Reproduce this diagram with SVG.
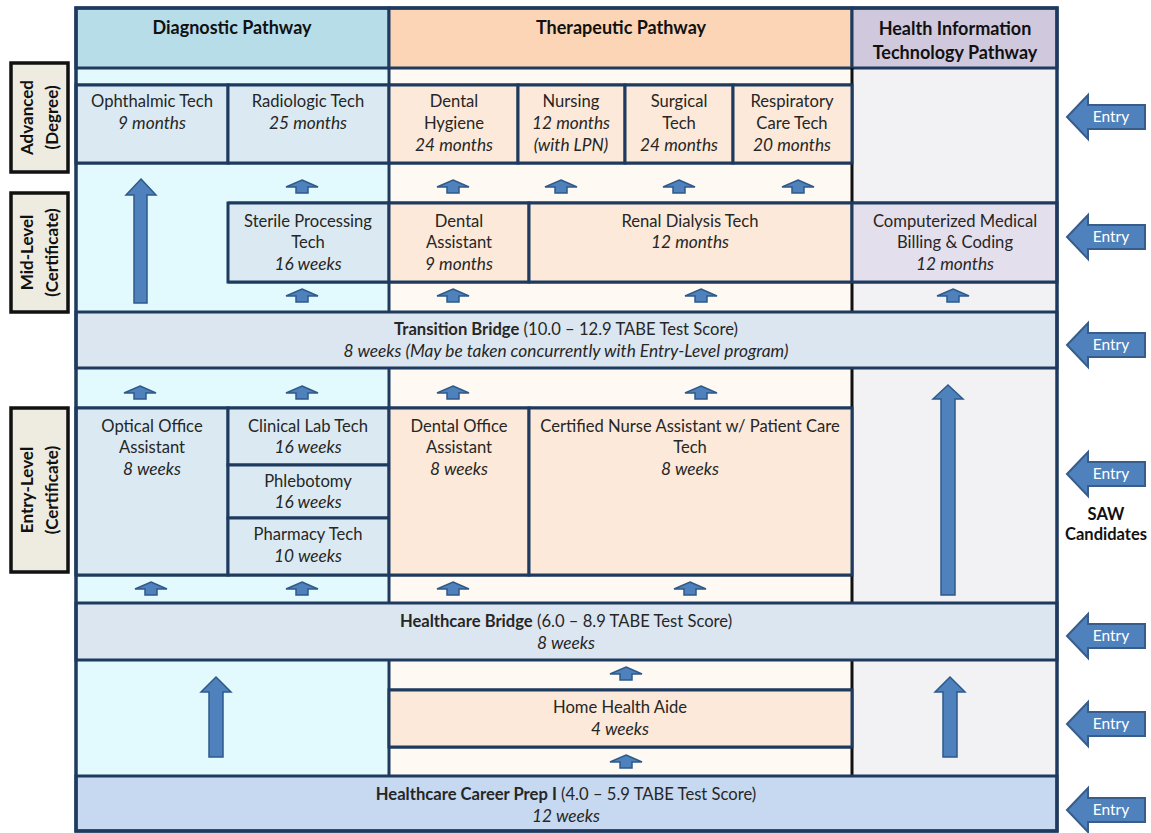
<svg xmlns="http://www.w3.org/2000/svg" xmlns:xlink="http://www.w3.org/1999/xlink" width="1151" height="833" viewBox="0 0 1151 833">
<style>
text{font-family:Lato,"Liberation Sans",sans-serif;font-size:16.6px;fill:#262626;text-anchor:middle}
.b{font-weight:bold}
.i{font-style:italic;font-size:17.3px}
.hdr{font-weight:bold;fill:#111;font-size:18px}
.cell{stroke:#1F3A5F;stroke-width:3}
.dbg{fill:#E2FAFD}.dbx{fill:#DBEAF2}.dh{fill:#B7DDE8}
.tbg{fill:#FEF9F2}.tbx{fill:#FCE9D9}.th{fill:#FBD5B5}
.hbg{fill:#F2F2F5}.hbx{fill:#E4DFEC}.hh{fill:#D0C8DC}
.bar{fill:#DCE6F1}.prep{fill:#C6D9F0}
.lab{fill:#EEECE1;stroke:#111;stroke-width:3.5}
.lt{font-weight:bold;fill:#111;font-size:17px}
.arr{fill:#4F81BD;stroke:#2E5A8A;stroke-width:1.5}
.ent{fill:#4F81BD;stroke:#385D8A;stroke-width:2}
.et{fill:#fff;font-size:15.5px}
.saw{font-weight:bold;fill:#111;font-size:16.5px}
.blk{stroke:#111;stroke-width:3}
</style>
<defs>
<path id="sa" d="M0,0 L16,7 L6,7 L6,13 L-6,13 L-6,7 L-16,7 Z"/>
<path id="ea" d="M0,0 L21,-22 L21,-12 L78,-12 L78,12 L21,12 L21,22 Z"/>
</defs>
<rect width="1151" height="833" fill="#fff"/>

<g id="columns">
<rect class="dbg" x="76" y="68" width="313" height="244"/>
<rect class="dbg" x="76" y="368" width="313" height="235"/>
<rect class="dbg" x="76" y="660" width="313" height="116"/>
<rect class="tbg" x="389" y="68" width="463" height="244"/>
<rect class="tbg" x="389" y="368" width="463" height="235"/>
<rect class="tbg" x="389" y="660" width="463" height="116"/>
<rect class="hbg" x="852" y="68" width="205" height="244"/>
<rect class="hbg" x="852" y="368" width="205" height="235"/>
<rect class="hbg" x="852" y="660" width="205" height="116"/>
</g>

<g id="headers">
<g id="diag-header"><rect class="cell dh" x="76" y="8" width="313" height="60"/><text class="hdr" x="232" y="34">Diagnostic Pathway</text></g>
<g id="ther-header"><rect class="cell th" x="389" y="8" width="463" height="60"/><text class="hdr" x="621" y="34">Therapeutic Pathway</text></g>
<g id="hit-header"><rect class="cell hh" x="852" y="8" width="205" height="60"/><text class="hdr" x="955" y="35">Health Information</text><text class="hdr" x="955" y="59">Technology Pathway</text></g>
</g>

<g id="gridlines">
<line class="cell" x1="76" y1="85" x2="852" y2="85"/>
<line class="cell" x1="76" y1="163" x2="852" y2="163"/>
<line class="cell" x1="389" y1="203" x2="1057" y2="203"/>
<line class="cell" x1="228" y1="203" x2="389" y2="203"/>
<line class="cell" x1="228" y1="282" x2="1057" y2="282"/>
<line class="cell" x1="76" y1="408" x2="852" y2="408"/>
<line class="cell" x1="76" y1="575" x2="852" y2="575"/>
<line class="cell" x1="389" y1="690" x2="852" y2="690"/>
<line class="cell" x1="389" y1="747" x2="852" y2="747"/>
<line class="cell" x1="389" y1="68" x2="389" y2="312"/>
<line class="cell" x1="389" y1="368" x2="389" y2="603"/>
<line class="cell" x1="389" y1="660" x2="389" y2="776"/>
<line class="blk" x1="852" y1="68" x2="852" y2="312"/>
<line class="blk" x1="852" y1="368" x2="852" y2="603"/>
<line class="blk" x1="852" y1="660" x2="852" y2="776"/>
</g>

<g id="ophthalmic"><rect class="cell dbx" x="76" y="85" width="152" height="78"/><text x="152" y="107">Ophthalmic Tech</text><text class="i" x="152" y="129">9 months</text></g>
<g id="radiologic"><rect class="cell dbx" x="228" y="85" width="161" height="78"/><text x="308" y="107">Radiologic Tech</text><text class="i" x="308" y="129">25 months</text></g>
<g id="dental-hygiene"><rect class="cell tbx" x="389" y="85" width="129" height="78"/><text x="454" y="107">Dental</text><text x="454" y="129">Hygiene</text><text class="i" x="454" y="151">24 months</text></g>
<g id="nursing"><rect class="cell tbx" x="518" y="85" width="107" height="78"/><text x="571" y="107">Nursing</text><text class="i" x="571" y="129">12 months</text><text class="i" x="571" y="151">(with LPN)</text></g>
<g id="surgical"><rect class="cell tbx" x="625" y="85" width="108" height="78"/><text x="679" y="107">Surgical</text><text x="679" y="129">Tech</text><text class="i" x="679" y="151">24 months</text></g>
<g id="respiratory"><rect class="cell tbx" x="733" y="85" width="119" height="78"/><text x="792" y="107">Respiratory</text><text x="792" y="129">Care Tech</text><text class="i" x="792" y="151">20 months</text></g>

<g id="sterile"><rect class="cell dbx" x="228" y="203" width="161" height="79"/><text x="308" y="227">Sterile Processing</text><text x="308" y="248">Tech</text><text class="i" x="308" y="270">16 weeks</text></g>
<g id="dental-assistant"><rect class="cell tbx" x="389" y="203" width="140" height="79"/><text x="459" y="227">Dental</text><text x="459" y="248">Assistant</text><text class="i" x="459" y="270">9 months</text></g>
<g id="renal"><rect class="cell tbx" x="529" y="203" width="323" height="79"/><text x="690" y="227">Renal Dialysis Tech</text><text class="i" x="690" y="248">12 months</text></g>
<g id="billing"><rect class="cell hbx" x="852" y="203" width="205" height="79"/><text x="955" y="227">Computerized Medical</text><text x="955" y="248">Billing &amp; Coding</text><text class="i" x="955" y="270">12 months</text></g>

<g id="transition-bridge"><rect class="cell bar" x="76" y="312" width="981" height="56"/><text x="566" y="335"><tspan class="b">Transition Bridge</tspan> (10.0 – 12.9 TABE Test Score)</text><text class="i" x="566" y="357">8 weeks (May be taken concurrently with Entry-Level program)</text></g>

<g id="optical"><rect class="cell dbx" x="76" y="408" width="152" height="167"/><text x="152" y="432">Optical Office</text><text x="152" y="453">Assistant</text><text class="i" x="152" y="475">8 weeks</text></g>
<g id="clinical-lab"><rect class="cell dbx" x="228" y="408" width="161" height="57"/><text x="308" y="432">Clinical Lab Tech</text><text class="i" x="308" y="453">16 weeks</text></g>
<g id="phlebotomy"><rect class="cell dbx" x="228" y="465" width="161" height="53"/><text x="308" y="487">Phlebotomy</text><text class="i" x="308" y="508">16 weeks</text></g>
<g id="pharmacy"><rect class="cell dbx" x="228" y="518" width="161" height="57"/><text x="308" y="540">Pharmacy Tech</text><text class="i" x="308" y="562">10 weeks</text></g>
<g id="dental-office"><rect class="cell tbx" x="389" y="408" width="140" height="167"/><text x="459" y="432">Dental Office</text><text x="459" y="453">Assistant</text><text class="i" x="459" y="475">8 weeks</text></g>
<g id="cna"><rect class="cell tbx" x="529" y="408" width="323" height="167"/><text x="690" y="432">Certified Nurse Assistant w/ Patient Care</text><text x="690" y="453">Tech</text><text class="i" x="690" y="475">8 weeks</text></g>

<g id="healthcare-bridge"><rect class="cell bar" x="76" y="603" width="981" height="57"/><text x="566" y="627"><tspan class="b">Healthcare Bridge</tspan> (6.0 – 8.9 TABE Test Score)</text><text class="i" x="566" y="649">8 weeks</text></g>
<g id="home-health"><rect class="cell tbx" x="389" y="690" width="463" height="57"/><text x="620" y="713">Home Health Aide</text><text class="i" x="620" y="735">4 weeks</text></g>
<g id="career-prep"><rect class="cell prep" x="76" y="776" width="981" height="55"/><text x="566" y="800"><tspan class="b">Healthcare Career Prep I</tspan> (4.0 – 5.9 TABE Test Score)</text><text class="i" x="566" y="822">12 weeks</text></g>

<rect id="outer" x="76" y="8" width="981" height="823" fill="none" stroke="#1F3A5F" stroke-width="3.5"/>

<g id="levels">
<g id="lvl-advanced"><rect class="lab" x="11" y="63" width="57" height="109"/><text class="lt" transform="translate(33,117.5) rotate(-90)">Advanced</text><text class="lt" transform="translate(58,117.5) rotate(-90)">(Degree)</text></g>
<g id="lvl-mid"><rect class="lab" x="11" y="193" width="57" height="119"/><text class="lt" transform="translate(33,252.5) rotate(-90)">Mid-Level</text><text class="lt" transform="translate(58,252.5) rotate(-90)">(Certificate)</text></g>
<g id="lvl-entry"><rect class="lab" x="11" y="408" width="57" height="164"/><text class="lt" transform="translate(33,490) rotate(-90)">Entry-Level</text><text class="lt" transform="translate(58,490) rotate(-90)">(Certificate)</text></g>
</g>

<g id="connectors">
<use class="arr" href="#sa" x="302" y="180"/>
<use class="arr" href="#sa" x="453" y="180"/>
<use class="arr" href="#sa" x="561" y="180"/>
<use class="arr" href="#sa" x="679" y="180"/>
<use class="arr" href="#sa" x="798" y="180"/>
<use class="arr" href="#sa" x="302" y="289"/>
<use class="arr" href="#sa" x="453" y="289"/>
<use class="arr" href="#sa" x="701" y="289"/>
<use class="arr" href="#sa" x="953" y="289"/>
<use class="arr" href="#sa" x="140" y="386"/>
<use class="arr" href="#sa" x="302" y="386"/>
<use class="arr" href="#sa" x="453" y="386"/>
<use class="arr" href="#sa" x="701" y="386"/>
<use class="arr" href="#sa" x="151" y="582"/>
<use class="arr" href="#sa" x="302" y="582"/>
<use class="arr" href="#sa" x="453" y="582"/>
<use class="arr" href="#sa" x="690" y="582"/>
<use class="arr" href="#sa" x="626" y="667"/>
<use class="arr" href="#sa" x="626" y="755"/>
<path class="arr" d="M141,179 L156,195 L147,195 L147,303 L134,303 L134,195 L126,195 Z"/>
<path class="arr" d="M216,677 L231,692 L223,692 L223,757 L209,757 L209,692 L201,692 Z"/>
<path class="arr" d="M948,385 L963,399 L955,399 L955,595 L941,595 L941,399 L933,399 Z"/>
<path class="arr" d="M950,677 L965,692 L957,692 L957,757 L943,757 L943,692 L935,692 Z"/>
</g>

<g id="entries">
<g id="entry-1"><use class="ent" href="#ea" x="1067" y="117"/><text class="et" x="1111" y="122">Entry</text></g>
<g id="entry-2"><use class="ent" href="#ea" x="1067" y="237"/><text class="et" x="1111" y="242">Entry</text></g>
<g id="entry-3"><use class="ent" href="#ea" x="1067" y="345"/><text class="et" x="1111" y="350">Entry</text></g>
<g id="entry-4"><use class="ent" href="#ea" x="1067" y="474"/><text class="et" x="1111" y="479">Entry</text></g>
<g id="entry-5"><use class="ent" href="#ea" x="1067" y="636"/><text class="et" x="1111" y="641">Entry</text></g>
<g id="entry-6"><use class="ent" href="#ea" x="1067" y="724"/><text class="et" x="1111" y="729">Entry</text></g>
<g id="entry-7"><use class="ent" href="#ea" x="1067" y="810"/><text class="et" x="1111" y="815">Entry</text></g>
<g id="saw"><text class="saw" x="1106" y="520">SAW</text><text class="saw" x="1106" y="540">Candidates</text></g>
</g>
</svg>
